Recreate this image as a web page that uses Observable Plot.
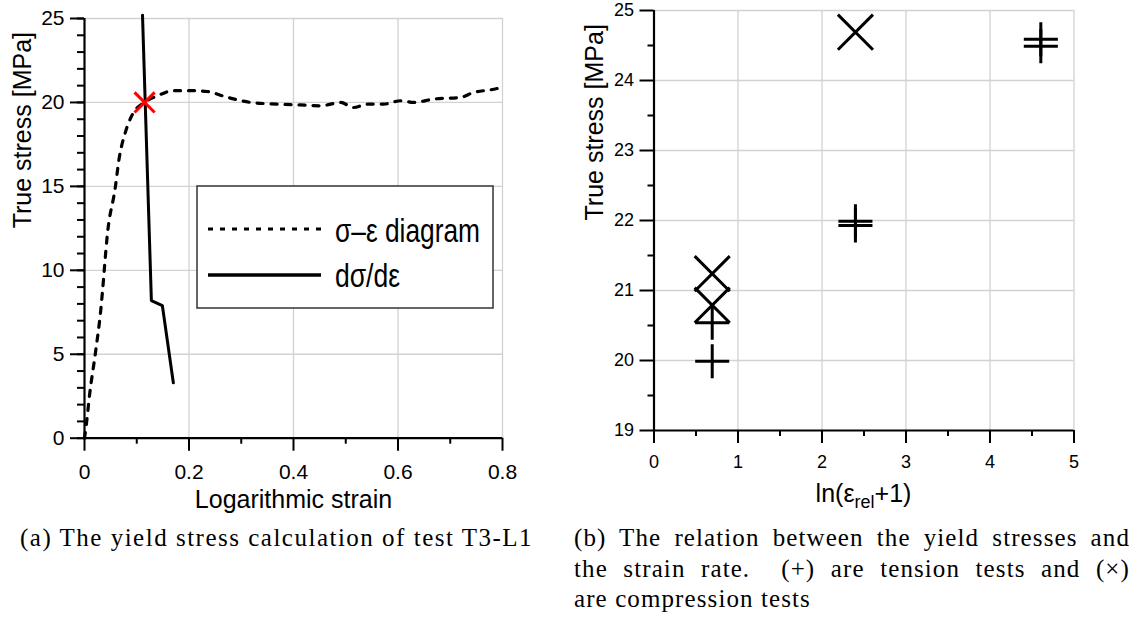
<!DOCTYPE html>
<html><head><meta charset="utf-8">
<script src="https://cdn.jsdelivr.net/npm/d3@7"></script>
<script src="https://cdn.jsdelivr.net/npm/@observablehq/plot@0.6"></script>
<style>
html,body{margin:0;padding:0;background:#fff;}
body{width:1141px;height:619px;overflow:hidden;position:relative;font-family:"Liberation Sans",Arial,sans-serif;}
.abs{position:absolute;}
.cap{font-family:"Liberation Serif","Times New Roman",serif;font-size:25px;line-height:30.5px;letter-spacing:1.1px;color:#000;white-space:nowrap;}
.just{text-align:justify;text-align-last:justify;white-space:normal;}
svg{overflow:visible;}
</style></head><body>
<div id="left" class="abs" style="left:0;top:0"></div>
<div id="right" class="abs" style="left:540px;top:0"></div>
<div class="abs cap" style="left:20px;top:523px;letter-spacing:1.5px">(a) The yield stress calculation of test T3-L1</div>
<div class="abs cap" style="left:574px;top:523px;width:556px">
  <div class="just">(b) The relation between the yield stresses and</div>
  <div class="just">the strain rate.&nbsp; (+) are tension tests and (×)</div>
  <div>are compression tests</div>
</div>
<script>
// ---- Left panel data: true stress-strain curve of test T3-L1 ----
const strainCurve = [0, 0.004, 0.0096, 0.021, 0.031, 0.034, 0.044, 0.059, 0.066, 0.078, 0.092, 0.115, 0.14, 0.17, 0.209, 0.235, 0.274, 0.318, 0.369, 0.413, 0.452, 0.49, 0.515, 0.542, 0.572, 0.605, 0.63, 0.668, 0.72, 0.745, 0.777, 0.8];
const stressCurve = [0, 0.94, 2.55, 5.1, 7.6, 8.6, 12.2, 14.95, 16.6, 18.2, 19.3, 20.0, 20.4, 20.7, 20.7, 20.65, 20.3, 20.0, 19.9, 19.85, 19.8, 20.0, 19.7, 19.9, 19.9, 20.1, 20.0, 20.2, 20.3, 20.6, 20.75, 20.9];
// derivative dσ/dε line
const strainDeriv = [0.111, 0.128, 0.149, 0.170];
const stressDeriv = [25.2, 8.2, 7.9, 3.3];
// yield point
const yieldStrain = [0.115];
const yieldStress = [20.0];
const leftXTicks = [0, 0.2, 0.4, 0.6, 0.8];
const leftXMinor = [0.1, 0.3, 0.5, 0.7];
const leftYTicks = [0, 5, 10, 15, 20, 25];
const leftYMinor = d3.range(0, 26, 1);
const leftXLabel = "Logarithmic strain";
const yLabel = "True stress [MPa]";
const legendLabels = ["σ–ε diagram", "dσ/dε"];

// ---- Right panel data: yield stress vs strain rate ----
const tensionRate = [0.693, 0.693, 2.398, 2.398, 4.605, 4.605];
const tensionStress = [20.54, 19.99, 21.99, 21.93, 24.59, 24.49];
const compressionRate = [0.693, 0.693, 2.398];
const compressionStress = [21.24, 20.79, 24.69];
const rightXTicks = [0, 1, 2, 3, 4, 5];
const rightXMinor = [0.5, 1.5, 2.5, 3.5, 4.5];
const rightYTicks = [19, 20, 21, 22, 23, 24, 25];
const rightYMinor = [19.5, 20.5, 21.5, 22.5, 23.5, 24.5];

const GRID = "#d2d2d2";
const font = "Liberation Sans, Arial, sans-serif";
const fmt = d3.format("~g");

const curve = strainCurve.map((x, i) => ({x, y: stressCurve[i]}));
const deriv = strainDeriv.map((x, i) => ({x, y: stressDeriv[i]}));
const yieldPt = yieldStrain.map((x, i) => ({x, y: yieldStress[i]}));

const left = Plot.plot({
  width: 522, height: 520,
  marginLeft: 84, marginRight: 20, marginTop: 18, marginBottom: 82.3,
  x: {domain: [0, 0.8]},
  y: {domain: [0, 25]},
  style: {fontFamily: font, fontSize: "21px", color: "#000", background: "transparent", overflow: "visible"},
  marks: [
    Plot.gridX(leftXTicks.filter(d => d > 0), {stroke: GRID, strokeOpacity: 1, strokeWidth: 1.3}),
    Plot.gridY(leftYTicks.filter(d => d > 0), {stroke: GRID, strokeOpacity: 1, strokeWidth: 1.3}),
    Plot.axisX(leftXMinor, {tickSize: 6, tickFormat: () => "", strokeWidth: 2, label: null}),
    Plot.axisX(leftXTicks, {tickSize: 13, tickPadding: 13, tickFormat: fmt, strokeWidth: 2, fontSize: 21, label: null}),
    Plot.axisY(leftYMinor, {tickSize: 7, tickFormat: () => "", strokeWidth: 2, label: null}),
    Plot.axisY(leftYTicks, {tickSize: 14, tickPadding: 6, tickFormat: fmt, strokeWidth: 2, fontSize: 21, label: null}),
    Plot.ruleX([0], {strokeWidth: 2.2, stroke: "#000"}),
    Plot.ruleY([0], {strokeWidth: 2.2, stroke: "#000"}),
    Plot.line(curve, {x: "x", y: "y", curve: "monotone-x", stroke: "#000", strokeWidth: 3.2, strokeDasharray: "6,8"}),
    Plot.line(deriv, {x: "x", y: "y", stroke: "#000", strokeWidth: 3}),
    Plot.dot(yieldPt, {x: "x", y: "y", symbol: "times", r: 9.2, stroke: "#ff0000", fill: "none", strokeWidth: 3}),
    Plot.text([leftXLabel], {frameAnchor: "bottom", dy: 70, fontSize: 25, text: d => d}),
    Plot.text([yLabel], {frameAnchor: "left", dx: -62, rotate: -90, fontSize: 25, text: d => d})
  ]
});
document.getElementById("left").append(left);

// legend box inside left plot
{
  const svg = d3.select(left);
  const g = svg.append("g").attr("font-family", font).attr("text-anchor", "start");
  g.append("rect").attr("x", 197).attr("y", 186).attr("width", 296).attr("height", 122)
    .attr("fill", "#fff").attr("stroke", "#333").attr("stroke-width", 1.5);
  g.append("line").attr("x1", 208).attr("x2", 321).attr("y1", 229).attr("y2", 229)
    .attr("stroke", "#000").attr("stroke-width", 3).attr("stroke-dasharray", "5,7");
  g.append("line").attr("x1", 208).attr("x2", 321).attr("y1", 275).attr("y2", 275)
    .attr("stroke", "#000").attr("stroke-width", 3.5);
  g.append("text").attr("x", 335).attr("y", 242).attr("font-size", 34).attr("text-anchor", "start")
    .attr("textLength", 145).attr("lengthAdjust", "spacingAndGlyphs").text(legendLabels[0]);
  g.append("text").attr("x", 335).attr("y", 287).attr("font-size", 34).attr("text-anchor", "start")
    .attr("textLength", 65).attr("lengthAdjust", "spacingAndGlyphs").text(legendLabels[1]);
}

const tension = tensionRate.map((x, i) => ({x, y: tensionStress[i]}));
const compression = compressionRate.map((x, i) => ({x, y: compressionStress[i]}));

const right = Plot.plot({
  width: 560, height: 515,
  marginLeft: 113.5, marginRight: 26.5, marginTop: 10, marginBottom: 85,
  x: {domain: [0, 5]},
  y: {domain: [19, 25]},
  style: {fontFamily: font, fontSize: "18px", color: "#000", background: "transparent", overflow: "visible"},
  marks: [
    Plot.gridX(rightXTicks.filter(d => d > 0), {stroke: GRID, strokeOpacity: 1, strokeWidth: 1.3}),
    Plot.gridY(rightYTicks.filter(d => d > 19), {stroke: GRID, strokeOpacity: 1, strokeWidth: 1.3}),
    Plot.axisX(rightXMinor, {tickSize: 6, tickFormat: () => "", strokeWidth: 2, label: null}),
    Plot.axisX(rightXTicks, {tickSize: 13, tickPadding: 12, tickFormat: fmt, strokeWidth: 2, fontSize: 18, label: null}),
    Plot.axisY(rightYMinor, {tickSize: 6, tickFormat: () => "", strokeWidth: 2, label: null}),
    Plot.axisY(rightYTicks, {tickSize: 14, tickPadding: 6, tickFormat: fmt, strokeWidth: 2, fontSize: 18, label: null}),
    Plot.ruleX([0], {strokeWidth: 2.2, stroke: "#000"}),
    Plot.ruleY([19], {strokeWidth: 2.2, stroke: "#000"}),
    Plot.dot(tension, {x: "x", y: "y", symbol: "plus", r: 11, stroke: "#000", fill: "none", strokeWidth: 3}),
    Plot.dot(compression, {x: "x", y: "y", symbol: "times", r: 16, stroke: "#000", fill: "none", strokeWidth: 3}),
    Plot.text([yLabel], {frameAnchor: "left", dx: -59.5, rotate: -90, fontSize: 25, text: d => d})
  ]
});
document.getElementById("right").append(right);

// x label with subscript
{
  const svg = d3.select(right);
  const cx = 113.5 + (560 - 113.5 - 26.5) / 2;
  const t = svg.append("text").attr("x", cx).attr("y", 502).attr("text-anchor", "middle")
    .attr("font-family", font).attr("font-size", 25);
  t.append("tspan").text("ln(ε");
  t.append("tspan").attr("font-size", 18).attr("dy", 6).text("rel");
  t.append("tspan").attr("dy", -6).text("+1)");
}
</script>
</body></html>
